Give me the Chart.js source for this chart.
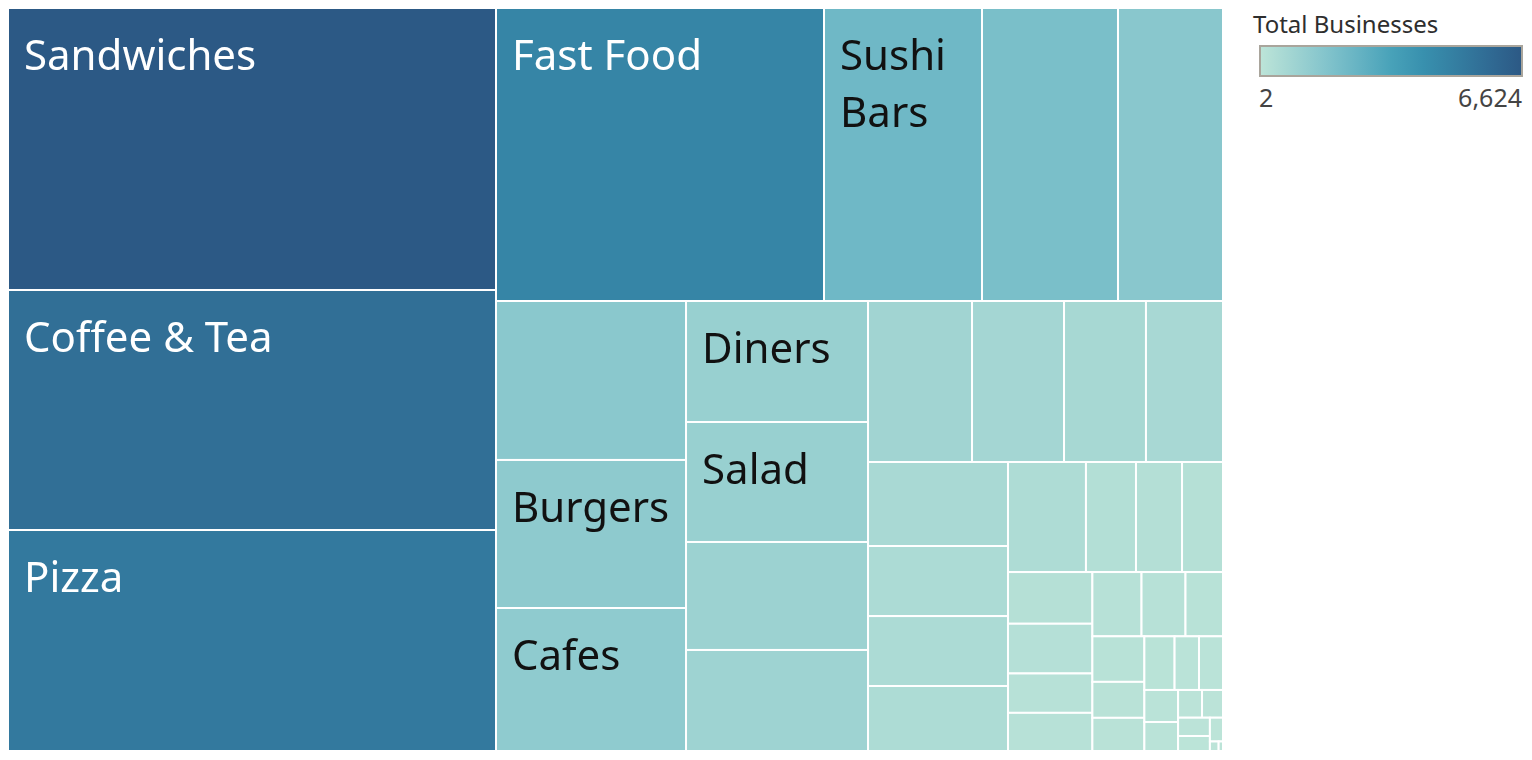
<!DOCTYPE html>
<html>
<head>
<meta charset="utf-8">
<title>Total Businesses by Category</title>
<script src="https://cdn.jsdelivr.net/npm/chart.js@4.4.1/dist/chart.umd.min.js"></script>
<style>
  body { margin: 0; background: #fff; font-family: "Noto Sans", sans-serif; }
  #chart-box { position: absolute; left: 0; top: 0; width: 1235px; height: 760px; }
  #legend { position: absolute; left: 1253px; top: 0; width: 279px; height: 120px; color: #333; }
  #legend .title { position: absolute; left: 0; top: 12px; font-size: 24px; line-height: 24px; white-space: nowrap; color: #2e2e2e; }
  #legend .ramp { position: absolute; left: 6px; top: 45px; width: 260px; height: 28px; border: 2px solid #a9a59c; }
  #legend .min, #legend .max { position: absolute; top: 85px; font-size: 25px; line-height: 25px; color: #444; }
  #legend .min { left: 6px; }
  #legend .max { right: 10px; }
</style>
</head>
<body>
<div id="chart-box"><canvas id="tree"></canvas></div>
<div id="legend">
  <div class="title">Total Businesses</div>
  <div class="ramp" id="ramp"></div>
  <div class="min" id="min-label"></div>
  <div class="max" id="max-label"></div>
</div>
<script>
// categorias (nomes vazios = rótulo não aparece no gráfico)
const categories = [
  'Sandwiches', 'Coffee & Tea', 'Pizza', 'Fast Food', 'Sushi Bars', '', '', '',
  'Burgers', 'Cafes', 'Diners', 'Salad', '', '', '', '',
  '', '', '', '', '', '', '', '',
  '', '', '', '', '', '', '', '',
  '', '', '', '', '', '', '', '',
  '', '', '', '', '', '', '', ''
];
const businesses = [
  6624, 5638, 5191, 4626, 2228, 1918, 1481, 1454,
  1354, 1308, 1060, 1051, 946, 885, 806, 713,
  635, 597, 566, 472, 471, 438, 413, 265,
  244, 217, 210, 202, 160, 155, 152, 136,
  116, 114, 90, 83, 78, 63, 62, 52,
  47, 32, 28, 28, 23, 15, 4, 2
];
const colorRange = [2, 6624];

// paleta azul-turquesa
const palette = ['#bce4d8', '#a0d4d2', '#83c4cc', '#66b3c3', '#48a2b9', '#3890ae', '#347ea1', '#306b94', '#2c5985'];

function hexToRgb(h) {
  const n = parseInt(h.slice(1), 16);
  return [(n >> 16) & 255, (n >> 8) & 255, n & 255];
}

function colorFor(v) {
  let t = (v - colorRange[0]) / (colorRange[1] - colorRange[0]);
  t = Math.max(0, Math.min(1, t)) * (palette.length - 1);
  const i = Math.min(Math.floor(t), palette.length - 2);
  const f = t - i;
  const a = hexToRgb(palette[i]), b = hexToRgb(palette[i + 1]);
  const c = a.map((x, k) => Math.round(x + (b[k] - x) * f));
  return 'rgb(' + c.join(',') + ')';
}

// pior razão de aspecto de uma linha (áreas pesadas por k)
function worst(row, side, k) {
  let sum = 0, max = -Infinity, min = Infinity;
  row.forEach(a => { sum += a; if (a > max) max = a; if (a < min) min = a; });
  sum *= k; max *= k; min *= k;
  const s2 = side * side;
  return Math.max(s2 * max / (sum * sum), (sum * sum) / (s2 * min));
}

// treemap "squarified", em unidades onde a altura vale 1 e a largura vale aspect
function squarify(values, aspect) {
  const total = values.reduce((a, b) => a + b, 0);
  const areas = values.map(v => v / total * aspect);
  const k = 1 / aspect;
  const out = [];
  let x = 0, y = 0, w = aspect, h = 1;
  let i = 0;
  while (i < areas.length) {
    const side = Math.min(w, h);
    const row = [areas[i]];
    let score = worst(row, side, k);
    let j = i + 1;
    while (j < areas.length) {
      const next = worst(row.concat(areas[j]), side, k);
      if (next > score) break;
      row.push(areas[j]);
      score = next;
      j++;
    }
    const sum = row.reduce((a, b) => a + b, 0);
    if (w >= h) {
      const cw = sum / h;
      let cy = y;
      row.forEach(a => { out.push({ x0: x, y0: cy, x1: x + cw, y1: cy + a / cw }); cy += a / cw; });
      x += cw; w -= cw;
    } else {
      const rh = sum / w;
      let cx = x;
      row.forEach(a => { out.push({ x0: cx, y0: y, x1: cx + a / rh, y1: y + rh }); cx += a / rh; });
      y += rh; h -= rh;
    }
    i = j;
  }
  return out;
}

function wrapText(ctx, text, maxW) {
  const words = text.split(' ');
  const lines = [];
  let line = '';
  words.forEach(word => {
    const test = line ? line + ' ' + word : word;
    if (line && ctx.measureText(test).width > maxW) {
      lines.push(line);
      line = word;
    } else {
      line = test;
    }
  });
  if (line) lines.push(line);
  return lines;
}

const treemapPlugin = {
  id: 'treemap',
  afterDatasetsDraw(chart) {
    const { ctx, chartArea, scales } = chart;
    const aspect = chartArea.width / chartArea.height;
    const cells = squarify(businesses, aspect);
    const rects = cells.map(c => ({
      left: scales.x.getPixelForValue(c.x0 / aspect),
      right: scales.x.getPixelForValue(c.x1 / aspect),
      top: scales.y.getPixelForValue(c.y0),
      bottom: scales.y.getPixelForValue(c.y1)
    }));

    ctx.save();
    rects.forEach((r, i) => {
      ctx.fillStyle = colorFor(businesses[i]);
      ctx.fillRect(r.left, r.top, r.right - r.left, r.bottom - r.top);
      ctx.strokeStyle = '#ffffff';
      ctx.lineWidth = 2;
      ctx.strokeRect(r.left, r.top, r.right - r.left, r.bottom - r.top);
    });

    // rótulos
    ctx.font = '42px "Noto Sans"';
    ctx.textBaseline = 'alphabetic';
    ctx.textAlign = 'left';
    rects.forEach((r, i) => {
      const name = categories[i];
      if (!name) return;
      const t = (businesses[i] - colorRange[0]) / (colorRange[1] - colorRange[0]);
      ctx.fillStyle = t > 0.5 ? '#ffffff' : '#111111';
      const lines = wrapText(ctx, name, r.right - r.left - 32);
      lines.forEach((ln, k) => {
        ctx.fillText(ln, r.left + 16, r.top + 62 + k * 57);
      });
    });
    ctx.restore();
  }
};

new Chart(document.getElementById('tree'), {
  type: 'scatter',
  data: { datasets: [{ label: 'Total Businesses', data: [] }] },
  options: {
    responsive: true,
    maintainAspectRatio: false,
    animation: false,
    layout: { padding: { left: 8, top: 8, right: 12, bottom: 9 } },
    scales: {
      x: { type: 'linear', min: 0, max: 1, display: false },
      y: { type: 'linear', min: 0, max: 1, reverse: true, display: false }
    },
    plugins: { legend: { display: false }, tooltip: { enabled: false } }
  },
  plugins: [treemapPlugin]
});

// legenda de cor
document.getElementById('ramp').style.background =
  'linear-gradient(to right, ' + palette.join(', ') + ')';
document.getElementById('min-label').textContent = colorRange[0].toLocaleString('en-US');
document.getElementById('max-label').textContent = colorRange[1].toLocaleString('en-US');
</script>
</body>
</html>
